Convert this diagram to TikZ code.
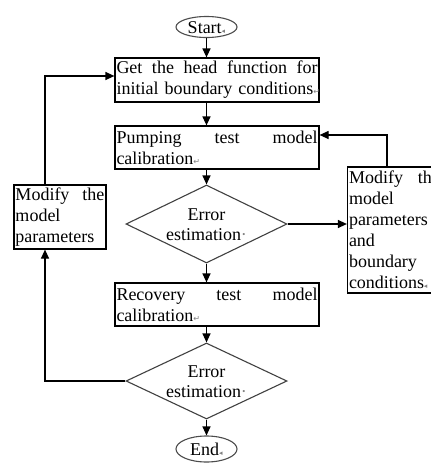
\documentclass[tikz,border=0pt]{standalone}
\usepackage{fontspec}
\setmainfont{Liberation Serif}
\newfontfamily\markfont{DejaVu Sans}
\usetikzlibrary{shapes.geometric,arrows.meta,calc}
\newcommand{\pmark}{{\markfont\fontsize{8}{8}\selectfont\color{gray}↵}}
\newcommand{\emark}{{\markfont\fontsize{7}{7}\selectfont\color{gray}◂}}
\newcommand{\dmark}{{\color{gray}·}}
\newcommand{\jline}[2]{\makebox[#1][l]{#2}}
\begin{document}
\begin{tikzpicture}[x=1pt,y=-1pt,
  every node/.style={font=\fontsize{18}{21}\selectfont},
  box/.style={draw=black, line width=1.2pt, rectangle, inner xsep=1.5pt, inner ysep=0pt, align=left},
  dia/.style={draw=black!75, line width=1.1pt, diamond, inner sep=0pt},
  term/.style={draw=black!70, line width=1.1pt, ellipse, inner sep=0pt},
  arr/.style={line width=1.2pt, -{Triangle[length=9pt,width=8pt]}}]
\useasboundingbox (0,0) rectangle (431,464);
\clip (0,0) rectangle (431,464);

\node[term, minimum width=61pt, minimum height=21pt] (start) at (206.5,27) {};
\node (startt) at (206.5,27.5) {Start\emark};

\node[box, text width=201pt, minimum height=44pt] (box1) at (217,80)
  {\jline{201pt}{Get\hfill the\hfill head\hfill function\hfill for}\\\jline{201pt}{initial boundary conditions\pmark}};
\node[box, text width=201pt, minimum height=43pt] (box2) at (217,147.5)
  {\jline{201pt}{Pumping\hfill test\hfill model}\\calibration\pmark};

\node[dia, minimum width=161pt, minimum height=78pt] (d1) at (206.5,224) {};
\node[align=center, font=\fontsize{18}{20}\selectfont] (d1t) at (206.5,225) {Error\\estimation\dmark};

\node[box, text width=201pt, minimum height=43pt] (box3) at (217,304.5)
  {\jline{201pt}{Recovery\hfill test\hfill model}\\calibration\pmark};

\node[dia, minimum width=161pt, minimum height=76pt] (d2) at (206.5,381) {};
\node[align=center, font=\fontsize{18}{20}\selectfont] (d2t) at (206.5,382) {Error\\estimation\dmark};

\node[term, minimum width=61pt, minimum height=26pt] (stop) at (206.5,449) {};
\node (stopt) at (206.5,449.5) {End\emark};

\node[box, text width=89pt, minimum height=64pt] (lbox) at (60,217)
  {\jline{89pt}{Modify\hfill the}\\model\\parameters};
\node[box, text width=91pt, minimum height=126pt] (rbox) at (394.5,230)
  {\jline{91pt}{Modify\hfill the}\\model\\parameters\\and\\boundary\\conditions\emark};

\draw[arr] (start.south) -- (start.south |- box1.north);
\draw[arr] (start.south |- box1.south) -- (start.south |- box2.north);
\draw[arr] (start.south |- box2.south) -- (d1.north);
\draw[arr] (d1.east) -- (d1.east -| rbox.west);
\coordinate (rx) at (387,135);
\draw[arr] (rx |- rbox.north) -- (rx) -- (rx -| box2.east);
\draw[arr] (d1.south) -- (d1.south |- box3.north);
\draw[arr] (d1.south |- box3.south) -- (d2.north);
\draw[arr] (d2.south) -- (stop.north);
\coordinate (lx) at (45,76);
\draw[arr] (d2.west) -| (lx |- lbox.south);
\draw[arr] (lx |- lbox.north) -- (lx) -- (lx -| box1.west);
\end{tikzpicture}
\end{document}
